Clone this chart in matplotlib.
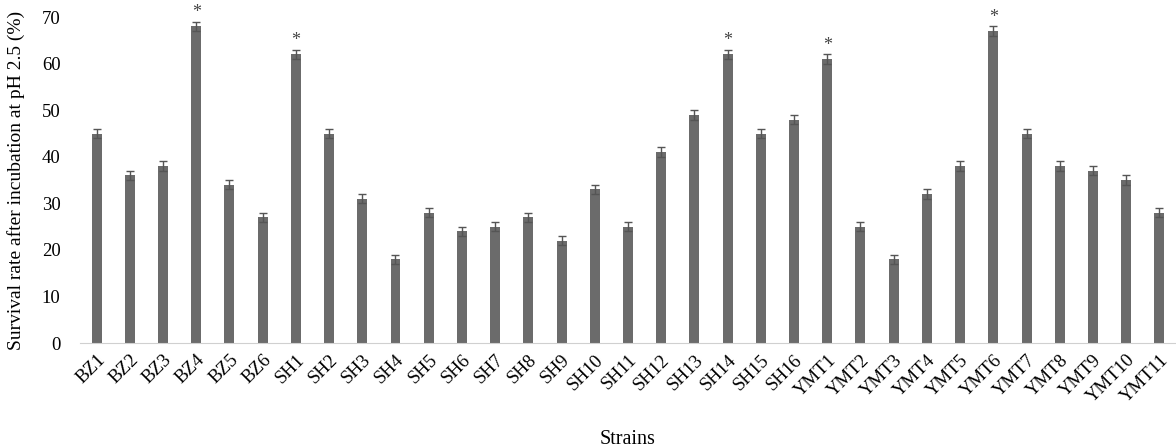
import matplotlib
matplotlib.use("Agg")
import matplotlib.pyplot as plt
import numpy as np

# cepas e taxas de sobrevivência (pH 2.5)
strains = ["BZ1", "BZ2", "BZ3", "BZ4", "BZ5", "BZ6",
           "SH1", "SH2", "SH3", "SH4", "SH5", "SH6", "SH7", "SH8", "SH9",
           "SH10", "SH11", "SH12", "SH13", "SH14", "SH15", "SH16",
           "YMT1", "YMT2", "YMT3", "YMT4", "YMT5", "YMT6", "YMT7", "YMT8",
           "YMT9", "YMT10", "YMT11"]
survival = [45, 36, 38, 68, 34, 27,
            62, 45, 31, 18, 28, 24, 25, 27, 22,
            33, 25, 41, 49, 62, 45, 48,
            61, 25, 18, 32, 38, 67, 45, 38,
            37, 35, 28]
errors = [1.0] * len(strains)
starred = ["BZ4", "SH1", "SH14", "YMT1", "YMT6"]

plt.rcParams["font.family"] = ["Liberation Serif", "DejaVu Serif"]

fig = plt.figure(figsize=(11.76, 4.48), dpi=100)
ax = fig.add_axes([0.068, 0.234, 0.932, 0.728])

x = np.arange(len(strains))
cor = "#6b6b6b"
ax.bar(x, survival, width=0.3, color=cor, yerr=errors,
       error_kw=dict(ecolor="#555555", elinewidth=1.0, capsize=3, capthick=1.0))

for s in starred:
    i = strains.index(s)
    ax.text(i, survival[i] + errors[i] + 0.1, "*", ha="center", va="bottom",
            fontsize=13, color="#444444")

ax.set_xlim(-0.5, len(strains) - 0.5)
ax.set_ylim(0, 70)
ax.set_yticks(range(0, 71, 10))
ax.set_xticks(x)
ax.set_xticklabels(strains, rotation=45, ha="right", rotation_mode="anchor")
ax.tick_params(axis="both", length=0, labelsize=13.5)
ax.tick_params(axis="x", pad=6)
ax.tick_params(axis="y", pad=14)

for lado in ["top", "right", "left"]:
    ax.spines[lado].set_visible(False)
ax.spines["bottom"].set_color("#d0d0d0")

ax.set_ylabel("Survival rate after incubation at pH 2.5 (%)", fontsize=14, labelpad=12)
ax.set_xlabel("Strains", fontsize=14.5, labelpad=17)

fig.savefig("out.png", dpi=100)
